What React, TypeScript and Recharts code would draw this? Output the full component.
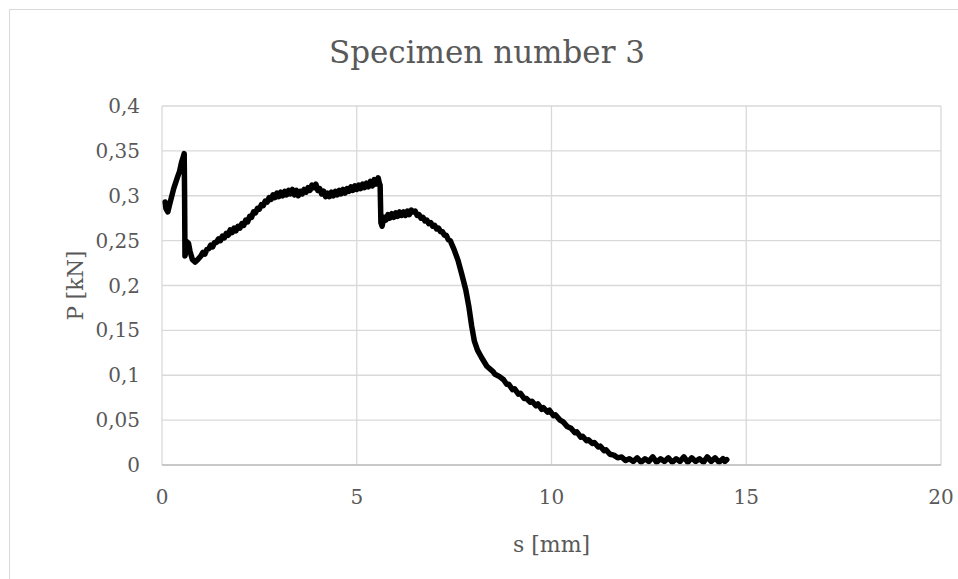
import { LineChart, Line, XAxis, YAxis, CartesianGrid } from 'recharts';

// Displacement s [mm] and load P [kN] for specimen 3 (noisy test record)
const sValues = [
  0.08, 0.1, 0.15, 0.2, 0.3, 0.4, 0.45, 0.5, 0.55, 0.57,
  0.58, 0.59, 0.6, 0.63, 0.68, 0.72, 0.78, 0.85, 0.92,
  1.0, 1.05, 1.1, 1.15, 1.2, 1.25, 1.3, 1.35, 1.4, 1.45,
  1.5, 1.55, 1.6, 1.65, 1.7, 1.75, 1.8, 1.85, 1.9, 1.95,
  2.0, 2.05, 2.1, 2.15, 2.2, 2.25, 2.3, 2.35, 2.4, 2.45,
  2.5, 2.55, 2.6, 2.65, 2.7, 2.75, 2.8, 2.85, 2.9, 2.95,
  3.0, 3.05, 3.1, 3.15, 3.2, 3.25, 3.3, 3.35, 3.4, 3.45,
  3.5, 3.55, 3.6, 3.65, 3.7, 3.75, 3.8, 3.85, 3.9, 3.95,
  4.0, 4.05, 4.1, 4.15, 4.2, 4.25, 4.3, 4.35, 4.4, 4.45,
  4.5, 4.55, 4.6, 4.65, 4.7, 4.75, 4.8, 4.85, 4.9, 4.95,
  5.0, 5.05, 5.1, 5.15, 5.2, 5.25, 5.3, 5.35, 5.4, 5.45,
  5.5, 5.55, 5.58, 5.6, 5.62, 5.65, 5.7, 5.75, 5.8, 5.85,
  5.9, 5.95, 6.0, 6.05, 6.1, 6.15, 6.2, 6.25, 6.3, 6.35,
  6.4, 6.45, 6.5, 6.55, 6.6, 6.65, 6.7, 6.75, 6.8, 6.85,
  6.9, 6.95, 7.0, 7.05, 7.1, 7.15, 7.2, 7.25, 7.3, 7.35,
  7.4, 7.45, 7.5, 7.6, 7.7, 7.8, 7.88, 7.95, 8.02, 8.1,
  8.2, 8.34, 8.5, 8.55, 8.65, 8.77, 8.85, 8.9, 9.0, 9.05,
  9.15, 9.2, 9.3, 9.36, 9.45, 9.5, 9.6, 9.65, 9.75, 9.79,
  9.9, 9.95, 10.05, 10.1, 10.22, 10.3, 10.4, 10.5, 10.6, 10.65,
  10.75, 10.8, 10.9, 10.95, 11.05, 11.1, 11.2, 11.25, 11.35, 11.4,
  11.5, 11.6, 11.7, 11.8, 11.9, 12.0, 12.1, 12.2, 12.3, 12.4,
  12.5, 12.6, 12.7, 12.8, 12.9, 13.0, 13.1, 13.2, 13.3, 13.4,
  13.5, 13.6, 13.7, 13.8, 13.9, 14.0, 14.1, 14.2, 14.3, 14.4,
  14.45, 14.5,
];

const pValues = [
  0.293, 0.286, 0.282, 0.291, 0.308, 0.321, 0.327, 0.337, 0.344, 0.347,
  0.3, 0.233, 0.235, 0.249, 0.247, 0.238, 0.229, 0.226, 0.229,
  0.233, 0.237, 0.235, 0.24, 0.241, 0.245, 0.243, 0.248, 0.248, 0.252,
  0.25, 0.255, 0.253, 0.258, 0.256, 0.262, 0.259, 0.264, 0.261, 0.266,
  0.264, 0.269, 0.267, 0.273, 0.271, 0.277, 0.276, 0.282, 0.281, 0.286,
  0.285, 0.29, 0.289, 0.294, 0.293, 0.298, 0.296, 0.301, 0.298, 0.303,
  0.299, 0.304, 0.3, 0.305, 0.301, 0.306, 0.302, 0.307, 0.301, 0.306,
  0.3, 0.305, 0.302, 0.307, 0.304, 0.309, 0.306, 0.312, 0.309, 0.313,
  0.306, 0.308, 0.302, 0.305, 0.299, 0.303, 0.299, 0.304, 0.3, 0.305,
  0.301, 0.306, 0.302, 0.307, 0.303, 0.308, 0.305, 0.31, 0.306, 0.311,
  0.307, 0.312, 0.308, 0.313, 0.309, 0.314, 0.31, 0.316, 0.311, 0.318,
  0.313, 0.32, 0.314, 0.312, 0.27, 0.266, 0.276, 0.273, 0.279, 0.275,
  0.28, 0.276, 0.281, 0.277, 0.282, 0.278, 0.282, 0.278, 0.283, 0.279,
  0.284, 0.282, 0.283, 0.278, 0.279, 0.275, 0.276, 0.272, 0.273, 0.269,
  0.27, 0.266, 0.267, 0.263, 0.264, 0.26, 0.26, 0.256, 0.256, 0.251,
  0.25, 0.245, 0.24, 0.228, 0.212, 0.195, 0.176, 0.155, 0.138, 0.128,
  0.12, 0.11, 0.104, 0.101, 0.099, 0.095, 0.09, 0.09, 0.084, 0.085,
  0.079, 0.08, 0.074, 0.074, 0.07, 0.071, 0.066, 0.068, 0.062, 0.064,
  0.059, 0.061, 0.055, 0.056, 0.05, 0.048, 0.043, 0.041, 0.036, 0.037,
  0.031, 0.032, 0.027, 0.028, 0.024, 0.025, 0.02, 0.021, 0.016, 0.017,
  0.012, 0.011, 0.008, 0.009, 0.005, 0.007, 0.004, 0.008, 0.003, 0.007,
  0.004, 0.009, 0.003, 0.007, 0.004, 0.008, 0.003, 0.007, 0.004, 0.009,
  0.003, 0.008, 0.004, 0.007, 0.003, 0.009, 0.004, 0.008, 0.003, 0.007,
  0.004, 0.006,
];

const sTicks = [0, 5, 10, 15, 20];
const pTicks = [0, 0.05, 0.1, 0.15, 0.2, 0.25, 0.3, 0.35, 0.4];

const data = sValues.map((s, i) => ({ s, p: pValues[i] }));

const FONT = '"DejaVu Serif", serif';
const TEXT = '#595959';

const fmt = (v: number) => String(v).replace('.', ',');

export default function App() {
  return (
    <div
      style={{
        position: 'fixed',
        left: 0,
        top: 0,
        width: 958,
        height: 579,
        overflow: 'hidden',
        background: '#fff',
      }}
    >
      <div
        style={{
          position: 'absolute',
          left: 9,
          top: 9,
          width: 960,
          height: 580,
          border: '1px solid #d9d9d9',
          background: '#fff',
        }}
      >
        <div
          style={{
            position: 'absolute',
            left: 0,
            top: 27,
            width: 954,
            textAlign: 'center',
            fontFamily: FONT,
            fontSize: 31,
            lineHeight: '31px',
            color: TEXT,
          }}
        >
          Specimen number 3
        </div>
        <LineChart
          width={948}
          height={569}
          data={data}
          margin={{ top: 96, right: 17, left: 0, bottom: 14 }}
          style={{ fontFamily: FONT }}
        >
          <CartesianGrid stroke="#d9d9d9" strokeWidth={1.3} />
          <XAxis
            dataKey="s"
            type="number"
            domain={[0, 20]}
            ticks={sTicks}
            height={100}
            tickLine={false}
            tickSize={0}
            tickMargin={25}
            axisLine={{ stroke: '#bfbfbf', strokeWidth: 1.5 }}
            tick={{ fontSize: 20, fill: TEXT, fontFamily: FONT }}
            label={{
              value: 's [mm]',
              position: 'insideBottom',
              offset: 13,
              style: { fontSize: 22, fill: TEXT, fontFamily: FONT },
            }}
          />
          <YAxis
            type="number"
            domain={[0, 0.4]}
            ticks={pTicks}
            width={152}
            tickLine={false}
            tickSize={0}
            tickMargin={22}
            axisLine={false}
            tickFormatter={fmt}
            tick={{ fontSize: 20, fill: TEXT, fontFamily: FONT }}
            label={{
              value: 'P [kN]',
              angle: -90,
              position: 'insideLeft',
              offset: 65.5,
              style: { fontSize: 21.5, fill: TEXT, fontFamily: FONT, textAnchor: 'middle' },
            }}
          />
          <Line
            type="linear"
            dataKey="p"
            stroke="#000"
            strokeWidth={5.5}
            strokeLinejoin="round"
            strokeLinecap="round"
            dot={false}
            isAnimationActive={false}
          />
        </LineChart>
      </div>
    </div>
  );
}
